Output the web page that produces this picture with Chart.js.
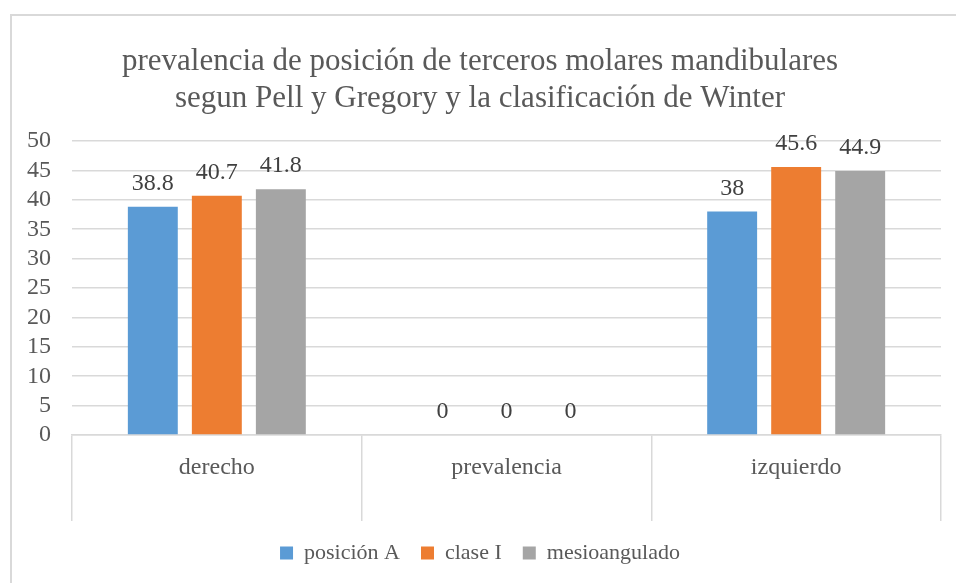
<!DOCTYPE html>
<html>
<head>
<meta charset="utf-8">
<script src="https://cdn.jsdelivr.net/npm/chart.js@4.4.0/dist/chart.umd.min.js"></script>
<style>
  body { margin: 0; background: #fff; }
  #wrap { position: relative; width: 956px; height: 583px; overflow: hidden; }
  #frame { position: absolute; left: 10px; top: 14px; width: 1000px; height: 700px;
           border-left: 2px solid #d9d9d9; border-top: 2px solid #d9d9d9; }
  canvas { position: absolute; left: 0; top: 0; }
</style>
</head>
<body>
<div id="wrap">
  <div id="frame"></div>
  <canvas id="chart" width="956" height="583"></canvas>
</div>
<script>
const categories = ["derecho", "prevalencia", "izquierdo"];
const posicionA = [38.8, 0, 38];
const claseI = [40.7, 0, 45.6];
const mesioangulado = [41.8, 0, 44.9];
const seriesNames = ["posición A", "clase I", "mesioangulado"];
const titleLines = ["prevalencia de posición de terceros molares mandibulares",
                    "segun Pell y Gregory y la clasificación de Winter"];

const FONT = '"Liberation Serif"';
const TEXT = "#595959";

// simple value labels above each bar
const barLabels = {
  id: "barLabels",
  afterDatasetsDraw(chart) {
    const ctx = chart.ctx;
    ctx.save();
    ctx.font = "24px " + FONT;
    ctx.fillStyle = "#404040";
    ctx.textAlign = "center";
    ctx.textBaseline = "alphabetic";
    chart.data.datasets.forEach((ds, i) => {
      chart.getDatasetMeta(i).data.forEach((bar, j) => {
        ctx.fillText(String(ds.data[j]), bar.x, bar.y - 17);
      });
    });
    ctx.restore();
  }
};

function draw() {
  Chart.defaults.font.family = FONT;
  new Chart(document.getElementById("chart").getContext("2d"), {
    type: "bar",
    data: {
      labels: categories,
      datasets: [
        { label: seriesNames[0], data: posicionA, backgroundColor: "#5B9BD5" },
        { label: seriesNames[1], data: claseI, backgroundColor: "#ED7D31" },
        { label: seriesNames[2], data: mesioangulado, backgroundColor: "#A5A5A5" }
      ]
    },
    options: {
      responsive: false,
      animation: false,
      categoryPercentage: 0.663,
      barPercentage: 0.78,
      layout: { padding: { left: 19, right: 15, top: 0, bottom: 9 } },
      plugins: {
        title: {
          display: true,
          text: titleLines,
          color: TEXT,
          font: { family: FONT, size: 31, weight: "normal", lineHeight: 1.21 },
          padding: { top: 43, bottom: 23 }
        },
        legend: {
          position: "bottom",
          labels: {
            color: TEXT,
            font: { family: FONT, size: 22 },
            boxWidth: 13,
            boxHeight: 13,
            padding: 21
          }
        },
        tooltip: { enabled: false }
      },
      scales: {
        x: {
          grid: {
            offset: true,
            drawOnChartArea: false,
            drawTicks: true,
            tickLength: 86,
            color: "#d9d9d9",
            lineWidth: 1.5
          },
          border: { display: true, color: "#d9d9d9", width: 1.5 },
          ticks: { color: TEXT, font: { family: FONT, size: 24 }, padding: -68 },
          afterFit(scale) { scale.height = 86; }
        },
        y: {
          min: 0,
          max: 50,
          ticks: { stepSize: 5, autoSkip: false, color: TEXT, font: { family: FONT, size: 24 }, padding: 21 },
          grid: { color: "#d9d9d9", lineWidth: 1.5, drawTicks: false },
          border: { display: false },
          afterFit(scale) { scale.width = 53; }
        }
      }
    },
    plugins: [barLabels]
  });
}

if (document.fonts && document.fonts.load) {
  Promise.all([document.fonts.load('20px "Liberation Serif"')]).then(draw, draw);
} else {
  draw();
}
</script>
</body>
</html>
